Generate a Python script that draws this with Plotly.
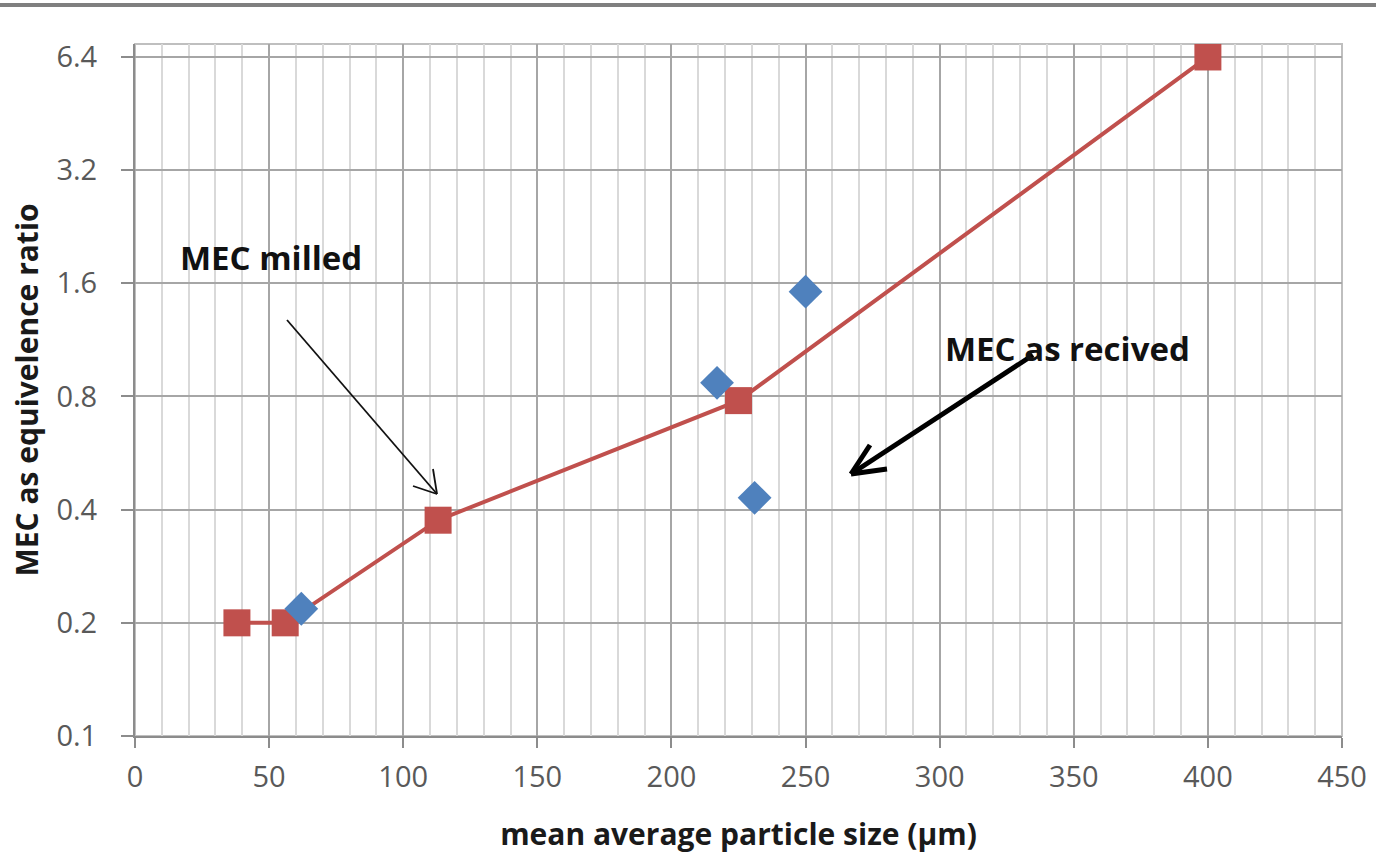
import plotly.graph_objects as go

# MEC vs mean particle size
milled_size = [38, 56, 113, 225, 400]
milled_mec = [0.2, 0.2, 0.375, 0.78, 6.4]

received_size = [62, 217, 231, 250]
received_mec = [0.218, 0.87, 0.43, 1.52]

y_ticks = [0.1, 0.2, 0.4, 0.8, 1.6, 3.2, 6.4]
y_tick_text = ["0.1", "0.2", "0.4", "0.8", "1.6", "3.2", "6.4"]

FONT = "Open Sans"
RED = "#c0504d"
BLUE = "#4f81bd"

fig = go.Figure()
fig.add_trace(go.Scatter(
    x=milled_size, y=milled_mec, mode="lines+markers",
    line=dict(color=RED, width=4),
    marker=dict(symbol="square", size=27, color=RED),
    showlegend=False,
))
fig.add_trace(go.Scatter(
    x=received_size, y=received_mec, mode="markers",
    marker=dict(symbol="diamond", size=26, color=BLUE),
    showlegend=False,
))

L, R, T, B = 135, 34, 44, 118
W, H = 1376, 854
pw, ph = W - L - R, H - T - B


def px(x):
    return (x - L) / pw


def py(y):
    return (H - B - y) / ph


def seg(x0, y0, x1, y1, width, color):
    """Straight line between two page positions (pixels), drawn as a paper shape."""
    return dict(type="line", xref="paper", yref="paper",
                x0=px(x0), y0=py(y0), x1=px(x1), y1=py(y1),
                line=dict(color=color, width=width))


def open_arrow(tail, tip, arm1, arm2, width, color):
    """Shaft from tail to tip plus a two-stroke open arrowhead at the tip."""
    tx, ty = tip
    return [seg(tail[0], tail[1], tx, ty, width, color),
            seg(tx + arm1[0], ty + arm1[1], tx, ty, width, color),
            seg(tx + arm2[0], ty + arm2[1], tx, ty, width, color)]


shapes = [
    # plot frame
    dict(type="rect", xref="paper", yref="paper", x0=0, x1=1, y0=0, y1=1,
         line=dict(color="#bfbfbf", width=2), layer="below"),
    # rule across the top of the page
    seg(0, 5, W, 5, 4, "#7f7f7f"),
]
shapes += open_arrow((287, 320), (437, 494), (-24, -8), (-4, -25), 1.8, "#111111")
shapes += open_arrow((1033, 355), (851, 474), (36, -5), (19, -29), 5, "#000000")

annotations = [
    dict(text="<b>MEC milled</b>", xref="paper", yref="paper",
         x=px(271), y=py(257), xanchor="center", yanchor="middle",
         showarrow=False, font=dict(family=FONT, size=33, color="#111111")),
    dict(text="<b>MEC as recived</b>", xref="paper", yref="paper",
         x=px(1067), y=py(348), xanchor="center", yanchor="middle",
         showarrow=False, font=dict(family=FONT, size=33, color="#111111")),
]

fig.update_layout(
    width=W, height=H,
    margin=dict(l=L, r=R, t=T, b=B),
    paper_bgcolor="white", plot_bgcolor="white",
    font=dict(family=FONT, color="#595959", size=29),
    xaxis=dict(
        range=[0, 450], dtick=50, tick0=0, automargin=False,
        showgrid=True, gridcolor="#a6a6a6", gridwidth=2,
        minor=dict(dtick=10, showgrid=True, gridcolor="#d9d9d9", gridwidth=2),
        showline=True, linecolor="#8c8c8c", linewidth=2,
        ticks="outside", ticklen=10, tickcolor="#8c8c8c", tickwidth=2,
        ticklabelstandoff=4,
        zeroline=False,
        title=dict(text="<b>mean average particle size (µm)</b>",
                   font=dict(family=FONT, size=30, color="#1a1a1a"), standoff=34),
    ),
    yaxis=dict(
        type="log", range=[-1, 0.8407], automargin=False,
        tickvals=y_ticks, ticktext=y_tick_text,
        showgrid=True, gridcolor="#a6a6a6", gridwidth=2,
        showline=True, linecolor="#8c8c8c", linewidth=2,
        ticks="outside", ticklen=12, tickcolor="#8c8c8c", tickwidth=2,
        ticklabelstandoff=18,
        zeroline=False,
        title=dict(text="<b>MEC as equivelence ratio</b>",
                   font=dict(family=FONT, size=30, color="#1a1a1a"), standoff=9),
    ),
    shapes=shapes,
    annotations=annotations,
)

fig.write_html("out.html")
